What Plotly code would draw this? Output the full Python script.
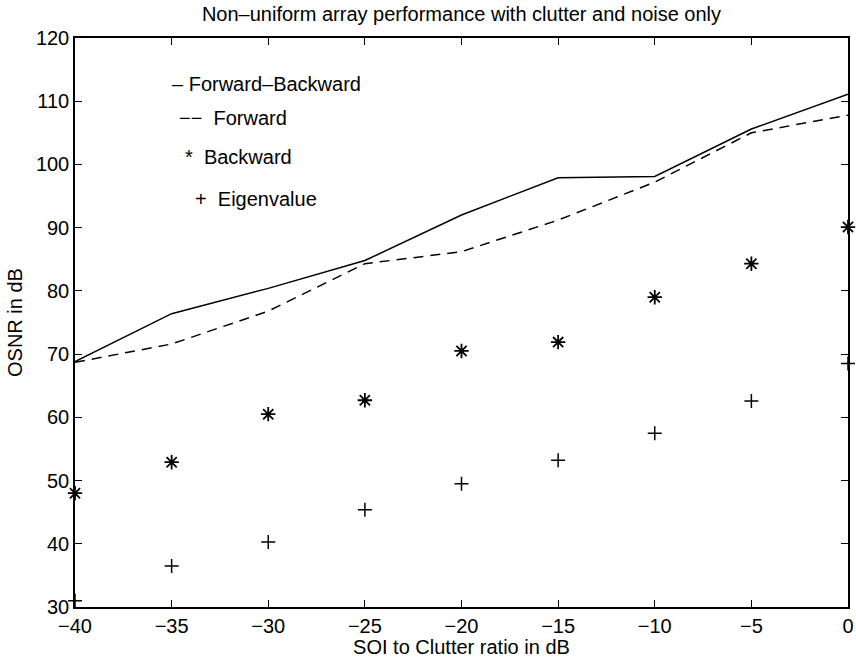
import plotly.graph_objects as go

# SOI to clutter ratio (dB)
soi_db = [-40, -35, -30, -25, -20, -15, -10, -5, 0]

# OSNR (dB) for each estimator
fb_osnr = [68.8, 76.4, 80.4, 84.8, 92.0, 97.9, 98.1, 105.6, 111.1]
fwd_osnr = [68.7, 71.6, 76.8, 84.3, 86.2, 91.2, 97.2, 105.0, 107.8]
bwd_osnr = [48.0, 52.9, 60.5, 62.7, 70.5, 71.9, 79.0, 84.3, 90.1]
eig_osnr = [31.0, 36.5, 40.3, 45.4, 49.5, 53.2, 57.5, 62.6, 68.5]

# In-axes key text (data coordinates)
key_text = ["\u2013 Forward\u2013Backward", "\u2212\u2212  Forward", "*  Backward", "+  Eigenvalue"]
key_x = [-35.1, -34.7, -34.4, -33.9]
key_y = [112.8, 107.3, 101.1, 94.5]

FONT = "Liberation Sans, Arial, Helvetica, sans-serif"

fig = go.Figure()
fig.add_trace(go.Scatter(x=soi_db, y=fb_osnr, mode="lines",
                         line=dict(color="black", width=1.5), cliponaxis=False))
fig.add_trace(go.Scatter(x=soi_db, y=fwd_osnr, mode="lines",
                         line=dict(color="black", width=1.5, dash="10px,7px"),
                         cliponaxis=False))
fig.add_trace(go.Scatter(x=soi_db, y=bwd_osnr, mode="markers",
                         marker=dict(symbol="asterisk-open", size=12, color="black",
                                     line=dict(color="black", width=1.8)),
                         cliponaxis=False))
fig.add_trace(go.Scatter(x=soi_db, y=eig_osnr, mode="markers",
                         marker=dict(symbol="cross-thin-open", size=10, color="black",
                                     line=dict(color="black", width=1.5)),
                         cliponaxis=False))

for t, x, y in zip(key_text, key_x, key_y):
    fig.add_annotation(x=x, y=y, text=t, showarrow=False, xanchor="left",
                       yanchor="middle", font=dict(family=FONT, size=20, color="black"))

axis_common = dict(showgrid=False, zeroline=False, showline=True, linecolor="black",
                   linewidth=1.5, mirror="ticks", ticks="inside", ticklen=7,
                   tickcolor="black", tickwidth=1.3,
                   tickfont=dict(family=FONT, size=20, color="black"))

fig.update_xaxes(range=[-40, 0], tickvals=soi_db, **axis_common,
                 title=dict(text="SOI to Clutter ratio in dB", standoff=2,
                            font=dict(family=FONT, size=20, color="black")))
fig.update_yaxes(range=[30, 120], tickvals=list(range(30, 121, 10)), **axis_common,
                 title=dict(text="OSNR in dB", standoff=8,
                            font=dict(family=FONT, size=20, color="black")))

fig.update_layout(
    width=856, height=658, showlegend=False,
    plot_bgcolor="white", paper_bgcolor="white",
    margin=dict(l=75, r=8, t=38, b=51, autoexpand=False),
    title=dict(text="Non\u2013uniform array performance with clutter and noise only",
               x=0.5, xref="paper", y=1 - 14 / 658, yref="container",
               xanchor="center", yanchor="middle",
               font=dict(family=FONT, size=20, color="black")),
)

fig.write_html("out.html")
